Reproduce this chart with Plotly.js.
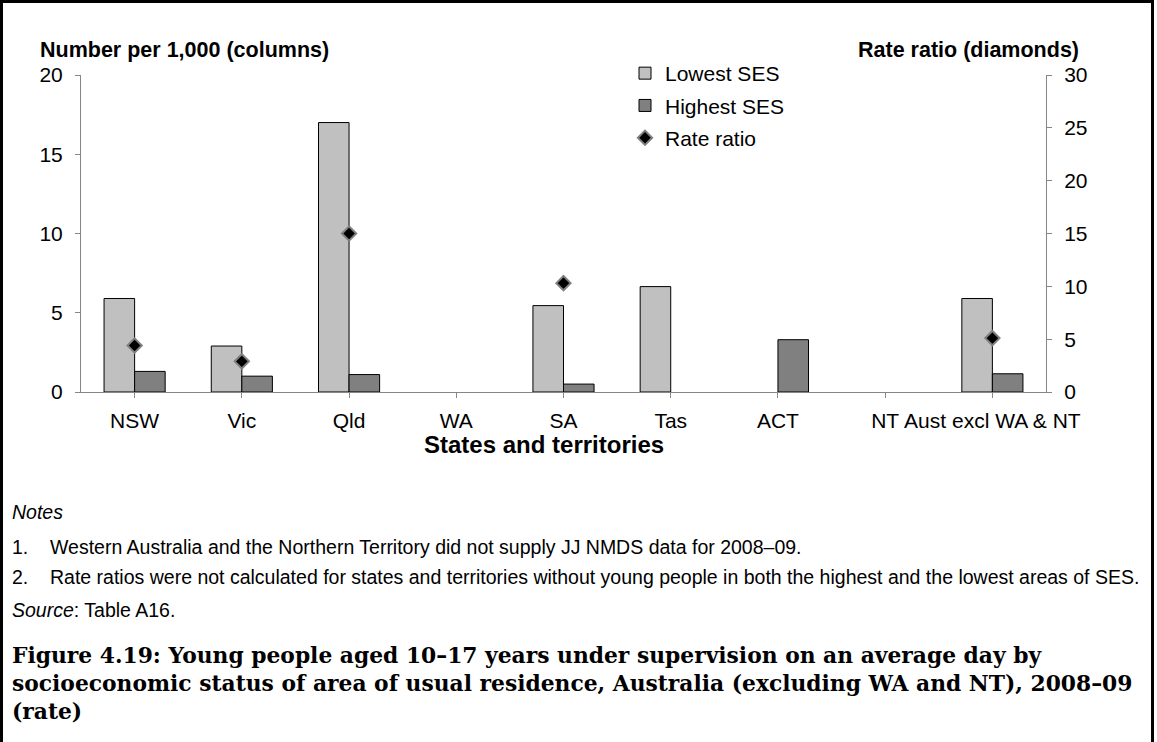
<!DOCTYPE html>
<html>
<head>
<meta charset="utf-8">
<script src="https://cdn.plot.ly/plotly-3.0.1.min.js"></script>
<style>
  html, body { margin: 0; padding: 0; background: #fff; }
  #wrap { position: relative; width: 1157px; height: 742px; }
  #chart { width: 1157px; height: 742px; }
  #frame { position: absolute; left: 0; top: 0; width: 1154px; height: 742px; box-sizing: border-box;
           border-left: 3px solid #000; border-top: 3px solid #000; border-right: 3px solid #000; pointer-events: none; }
</style>
</head>
<body>
<div id="wrap"><div id="chart"></div><div id="frame"></div></div>
<script>
const categories = ['NSW', 'Vic', 'Qld', 'WA', 'SA', 'Tas', 'ACT', 'NT', 'Aust excl WA & NT'];
const lowestSES  = [5.9, 2.9, 17.0, null, 5.45, 6.65, null, null, 5.9];
const highestSES = [1.3, 1.0, 1.1, null, 0.5, null, 3.3, null, 1.15];
const rateRatio  = [4.4, 2.9, 15.0, null, 10.3, null, null, null, 5.1];

const L = 81, R = 1046, T = 75, B = 392;
const px = x => (x - L) / (R - L);
const py = y => (B - y) / (B - T);

const sans = 'Liberation Sans, Arial, sans-serif';
const serif = 'DejaVu Serif, serif';
const axisCol = '#868686';

const traces = [
  { type: 'bar', name: 'Lowest SES', x: categories, y: lowestSES, legendgroup: 'a',
    marker: { color: '#C0C0C0', line: { color: '#000', width: 1 } } },
  { type: 'bar', name: 'Highest SES', x: categories, y: highestSES, legendgroup: 'b',
    marker: { color: '#808080', line: { color: '#000', width: 1 } } },
  { type: 'scatter', mode: 'markers', name: 'Rate ratio', x: categories, y: rateRatio, yaxis: 'y2', legendgroup: 'c',
    marker: { symbol: 'diamond', size: 11, color: '#000', line: { color: '#808080', width: 2 } } }
];

const noteFont = { family: sans, size: 19.5, color: '#000' };
const titleFont = { family: serif, size: 21.8, color: '#000' };
const boldFont = { family: sans, size: 21.5, color: '#000' };
function ann(text, x, y, font, xanchor) {
  return { text: text, x: px(x), y: py(y), xref: 'paper', yref: 'paper', xanchor: xanchor || 'left', yanchor: 'middle',
           showarrow: false, font: font, align: 'left' };
}

const annotations = [
  ann('<b>Number per 1,000 (columns)</b>', 38, 50, boldFont),
  ann('<b>Rate ratio (diamonds)</b>', 1081, 50, boldFont, 'right'),
  ann('<b>States and territories</b>', 544, 444, { family: sans, size: 24, color: '#000' }, 'center'),
  ann('<i>Notes</i>', 10, 512, noteFont),
  ann('1.', 10, 547, noteFont),
  ann('Western Australia and the Northern Territory did not supply JJ NMDS data for 2008–09.', 48, 547, noteFont),
  ann('2.', 10, 577, noteFont),
  ann('Rate ratios were not calculated for states and territories without young people in both the highest and the lowest areas of SES.', 48, 577, noteFont),
  ann('<i>Source</i>: Table A16.', 10, 610, noteFont),
  ann('<b>Figure 4.19: Young people aged 10–17 years under supervision on an average day by</b>', 10, 655, titleFont),
  ann('<b>socioeconomic status of area of usual residence, Australia (excluding WA and NT), 2008–09</b>', 10, 683, titleFont),
  ann('<b>(rate)</b>', 10, 711, titleFont)
];

const layout = {
  width: 1157, height: 742,
  margin: { l: L, r: 1157 - R, t: T, b: 742 - B, pad: 0 },
  paper_bgcolor: '#fff', plot_bgcolor: '#fff',
  font: { family: sans, size: 21, color: '#000' },
  barmode: 'group', bargap: 0.43, bargroupgap: 0,
  showlegend: true,
  legend: { x: px(625), y: py(53), xanchor: 'left', yanchor: 'top', bgcolor: 'rgba(0,0,0,0)',
            font: { family: sans, size: 21, color: '#000' }, tracegroupgap: 2, traceorder: 'grouped' },
  xaxis: { type: 'category', range: [-0.5, 8.5], showline: true, linecolor: axisCol, linewidth: 1,
           ticks: 'outside', ticklen: 5, tickcolor: axisCol, tickangle: 0, ticklabelstandoff: 5,
           tickfont: { family: sans, size: 21 }, showgrid: false, zeroline: false, fixedrange: true },
  yaxis: { range: [0, 20], dtick: 5, showline: true, linecolor: axisCol, linewidth: 1,
           ticks: 'outside', ticklen: 5, tickcolor: axisCol, ticklabelstandoff: 8,
           tickfont: { family: sans, size: 21 }, showgrid: false, zeroline: false },
  yaxis2: { range: [0, 30], dtick: 5, overlaying: 'y', side: 'right', showline: true, linecolor: axisCol, linewidth: 1,
            ticks: 'outside', ticklen: 5, tickcolor: axisCol, ticklabelstandoff: 8,
            tickfont: { family: sans, size: 21 }, showgrid: false, zeroline: false },
  annotations: annotations,
  hovermode: false
};

Plotly.newPlot('chart', traces, layout, { staticPlot: true, displayModeBar: false });
</script>
</body>
</html>
